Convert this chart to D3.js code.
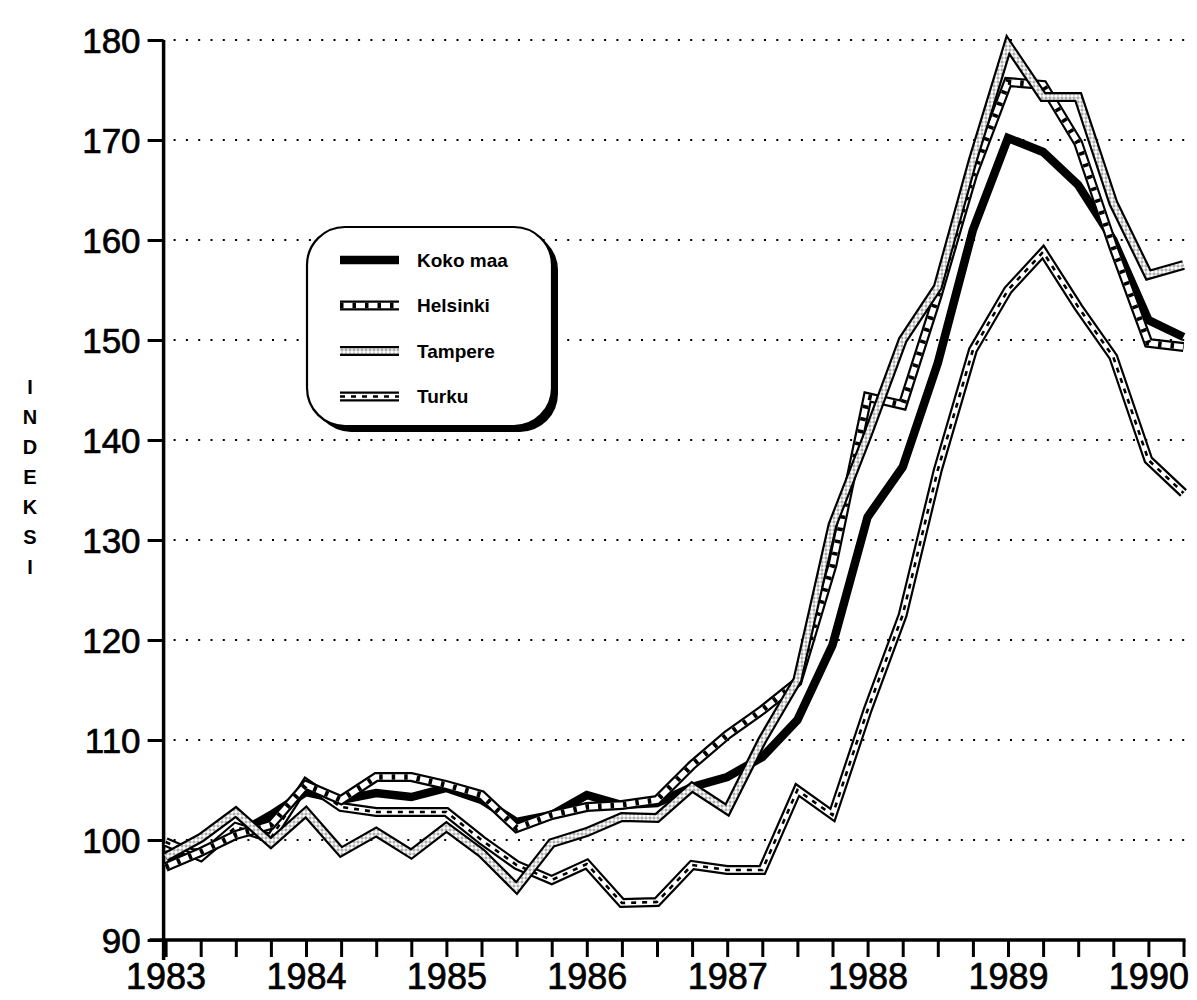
<!DOCTYPE html>
<html>
<head>
<meta charset="utf-8">
<script src="https://cdn.jsdelivr.net/npm/d3@7"></script>
<style>
  html, body { margin: 0; padding: 0; background: #fff; }
  svg { display: block; }
  text { font-family: "Liberation Sans", Arial, Helvetica, sans-serif; fill: #000; }
</style>
</head>
<body>
<svg id="chart" width="1197" height="1000"></svg>
<script>
// ---- data ----
const quarters = d3.range(0, 30).map(i => 1983 + i * 0.25);
const yearLabels = [1983, 1984, 1985, 1986, 1987, 1988, 1989, 1990];
const yTicks = [90, 100, 110, 120, 130, 140, 150, 160, 170, 180];
const seriesNames = ["Koko maa", "Helsinki", "Tampere", "Turku"];
const yTitle = "INDEKSI";

const kokoMaa = [98.5, 98.8, 100.5, 102.5, 104.8, 104.0, 104.7, 104.3, 105.2, 104.0,
                 101.8, 102.5, 104.5, 103.5, 103.7, 105.3, 106.3, 108.3, 112.0, 119.5,
                 132.3, 137.3, 147.7, 161.0, 170.2, 168.8, 165.5, 160.0, 152.0, 150.3];
const helsinki = [97.3, 98.8, 100.5, 101.5, 105.5, 104.0, 106.3, 106.3, 105.5, 104.5,
                  101.2, 102.5, 103.3, 103.5, 104.0, 107.5, 110.5, 113.0, 115.8, 127.5,
                  144.3, 143.5, 154.5, 166.5, 175.8, 175.5, 169.7, 159.3, 149.7, 149.3];
const tampere = [98.3, 100.2, 102.8, 99.7, 102.8, 98.8, 100.8, 98.6, 101.3, 98.7,
                 95.2, 99.7, 100.8, 102.3, 102.2, 105.3, 103.0, 110.0, 116.0, 131.5,
                 140.5, 150.0, 155.3, 168.0, 179.5, 174.3, 174.3, 163.7, 156.5, 157.5];
const turku = [99.8, 98.3, 101.3, 100.2, 105.7, 103.3, 102.8, 102.8, 102.8, 100.0,
               97.5, 96.0, 97.6, 93.7, 93.8, 97.5, 97.0, 97.0, 105.0, 102.5,
               113.0, 122.5, 137.0, 149.0, 155.0, 158.8, 153.3, 148.3, 138.0, 134.7];

// ---- setup ----
const svg = d3.select("#chart");
const x = d3.scaleLinear().domain([1983, 1990.25]).range([165.6, 1183.5]);
const y = d3.scaleLinear().domain([90, 180]).range([940, 40]);

const defs = svg.append("defs");
const dots = defs.append("pattern").attr("id", "dots")
  .attr("patternUnits", "userSpaceOnUse").attr("width", 4).attr("height", 4);
dots.append("rect").attr("width", 4).attr("height", 4).attr("fill", "#fff");
dots.append("circle").attr("cx", 2).attr("cy", 2).attr("r", 1.1)
  .attr("fill", "none").attr("stroke", "#555").attr("stroke-width", 0.6);

// gridlines (dotted)
svg.append("g").selectAll("line").data(yTicks.filter(v => v > 90)).join("line")
  .attr("x1", x(1983) + 8).attr("x2", 1186)
  .attr("y1", d => y(d)).attr("y2", d => y(d))
  .attr("stroke", "#000").attr("stroke-width", 2.2)
  .attr("stroke-dasharray", "2 10.3").attr("stroke-linecap", "butt");

// axes
const yAxis = d3.axisLeft(y).tickValues(yTicks).tickSize(16).tickPadding(7);
const gy = svg.append("g").attr("transform", `translate(${x(1983) - 2},0)`).call(yAxis);
gy.select(".domain").attr("stroke-width", 3.5).attr("d", `M0,${y(180)}V${y(90) + 20}`);
gy.selectAll(".tick line").attr("stroke-width", 3);
gy.selectAll(".tick text").attr("font-size", 35).attr("dy", "0.36em")
  .attr("stroke", "#000").attr("stroke-width", 0.7)
  .style("font-family", "'Liberation Sans', Arial, sans-serif");

const xAxis = d3.axisBottom(x).tickValues(quarters).tickSize(17).tickPadding(5)
  .tickFormat(d => Number.isInteger(d) ? String(d) : "");
const gx = svg.append("g").attr("transform", `translate(0,${y(90)})`).call(xAxis);
gx.select(".domain").attr("stroke-width", 3.5).attr("d", `M${x(1983) - 16},0H${x(1990.25) + 2}`);
gx.selectAll(".tick line").attr("stroke-width", 3);
gx.selectAll(".tick text").attr("font-size", 36).attr("dy", "0.75em")
  .attr("stroke", "#000").attr("stroke-width", 0.7);

// y title stacked letters
svg.append("g").selectAll("text").data(yTitle.split("")).join("text")
  .attr("x", 30).attr("y", (d, i) => 394 + i * 30)
  .attr("text-anchor", "middle").attr("font-size", 20).attr("font-weight", "bold")
  .text(d => d);

// ---- series ----
const line = d3.line().x((d, i) => x(quarters[i])).y(d => y(d));

function drawSeries(g, d, kind) {
  const p = (attrs) => {
    const el = g.append("path").attr("d", d).attr("fill", "none")
      .attr("stroke-linejoin", "miter").attr("stroke-miterlimit", 3);
    Object.entries(attrs).forEach(([k, v]) => el.attr(k, v));
    return el;
  };
  if (kind === "koko") {
    p({ stroke: "#000", "stroke-width": 8.5 });
    return;
  }
  p({ stroke: "#000", "stroke-width": 10 });
  if (kind === "tampere") {
    p({ stroke: "url(#dots)", "stroke-width": 5.6 });
  } else if (kind === "helsinki") {
    p({ stroke: "#fff", "stroke-width": 5.6 });
    p({ stroke: "#000", "stroke-width": 5.6, "stroke-dasharray": "3.5 9" });
  } else if (kind === "turku") {
    p({ stroke: "#fff", "stroke-width": 5.6 });
    p({ stroke: "#000", "stroke-width": 2.6, "stroke-dasharray": "5 6" });
  }
}

const plot = svg.append("g");
drawSeries(plot, line(kokoMaa), "koko");
drawSeries(plot, line(turku), "turku");
drawSeries(plot, line(helsinki), "helsinki");
drawSeries(plot, line(tampere), "tampere");

// ---- legend ----
const lg = svg.append("g");
lg.append("rect").attr("x", 313).attr("y", 232).attr("width", 245).attr("height", 200)
  .attr("rx", 38).attr("fill", "#000");
lg.append("rect").attr("x", 307).attr("y", 227).attr("width", 245).attr("height", 199)
  .attr("rx", 38).attr("fill", "#fff").attr("stroke", "#000").attr("stroke-width", 2.2);
const kinds = ["koko", "helsinki", "tampere", "turku"];
seriesNames.forEach((name, i) => {
  const yy = 260 + i * 45.5;
  drawSeries(lg, `M340,${yy}H399`, kinds[i]);
  lg.append("text").attr("x", 417).attr("y", yy).attr("dy", "0.36em")
    .attr("font-size", 19).attr("font-weight", "bold").text(name);
});
</script>
</body>
</html>
